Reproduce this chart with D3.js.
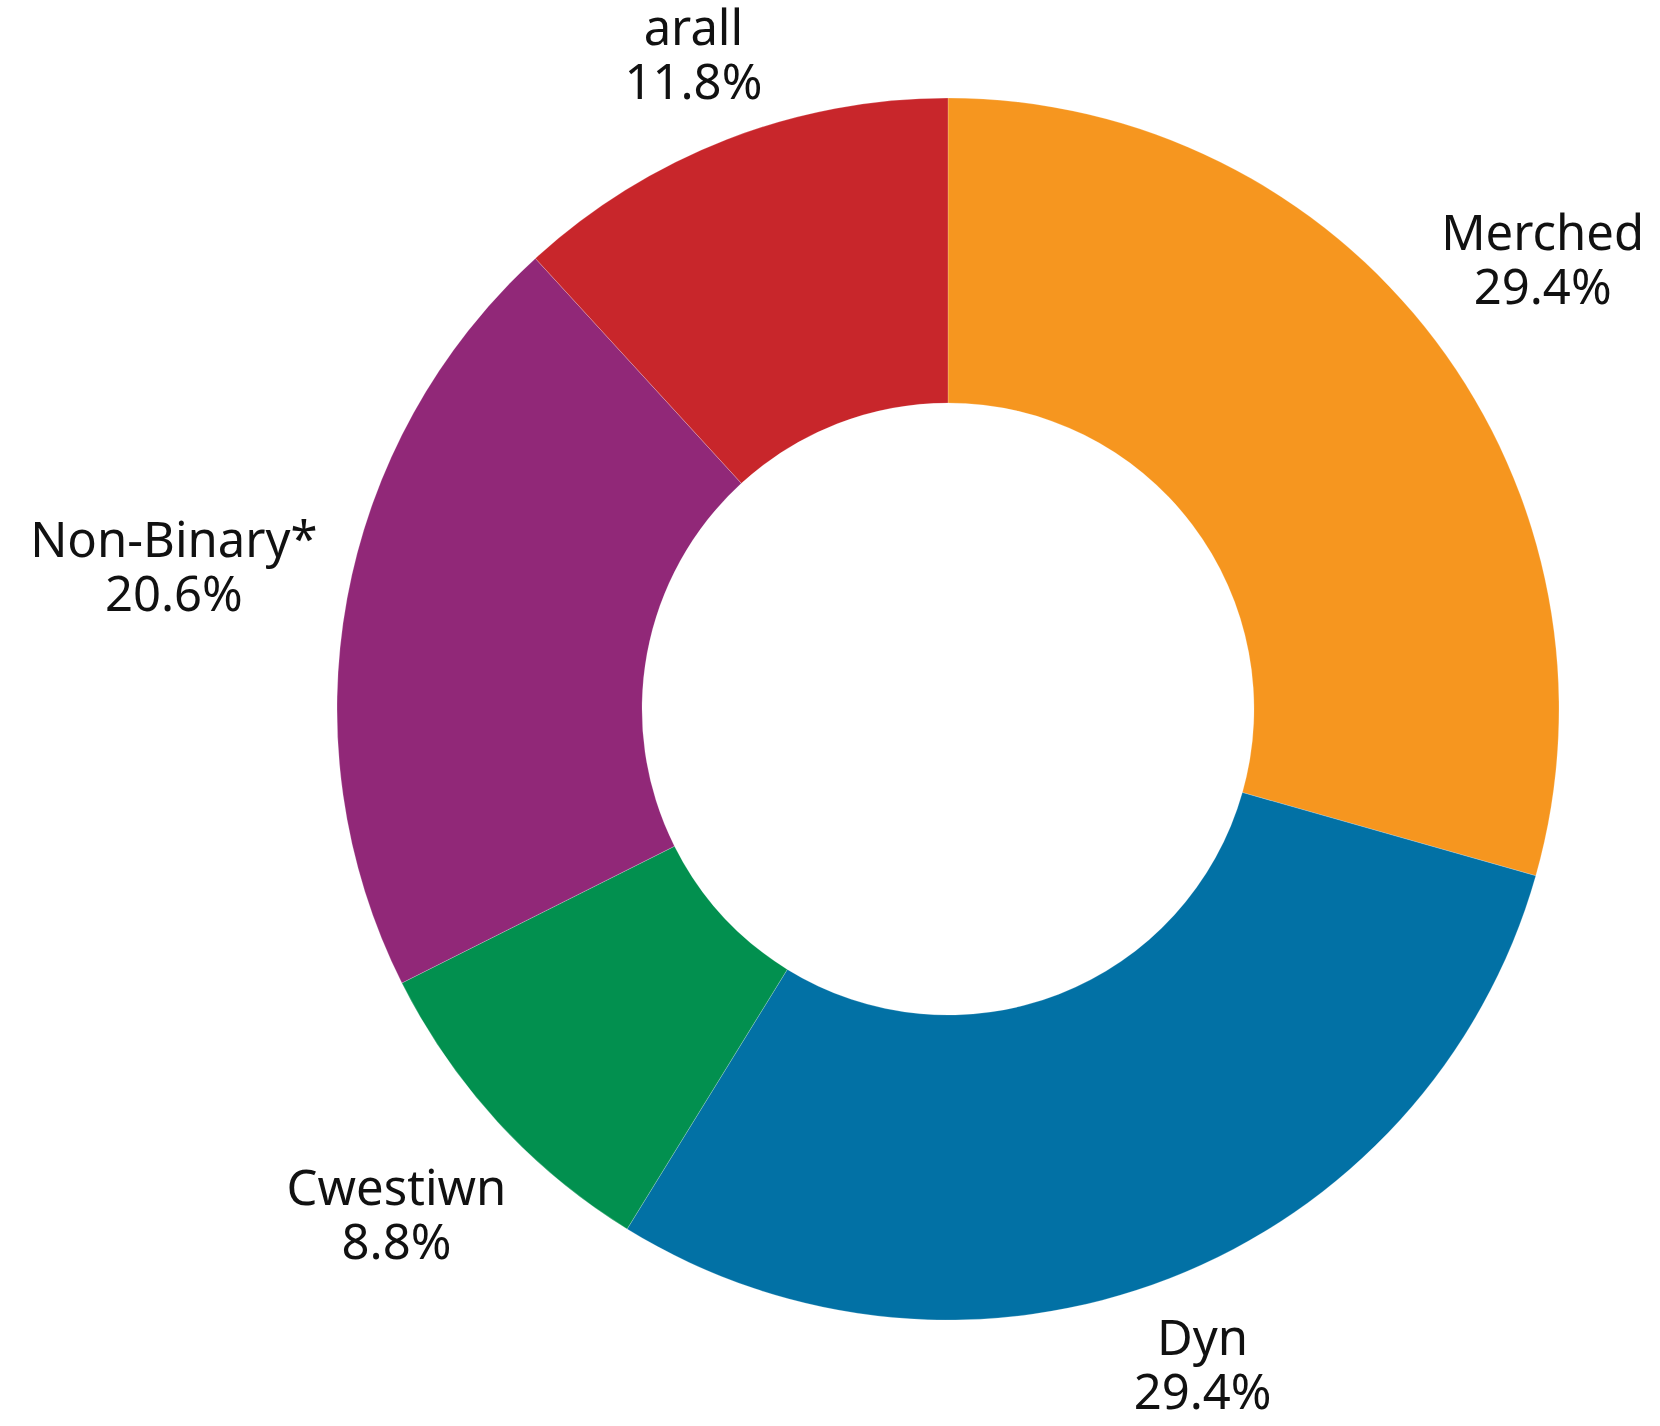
<!DOCTYPE html>
<html>
<head>
<meta charset="utf-8">
<script src="https://cdn.jsdelivr.net/npm/d3@7"></script>
<style>
  html, body { margin: 0; padding: 0; background: #ffffff; }
  svg { display: block; }
  text { font-family: "Noto Sans", "DejaVu Sans", sans-serif; fill: #111111; }
</style>
</head>
<body>
<svg id="chart" width="1660" height="1426"></svg>
<script>
// Gender breakdown, clockwise from 12 o'clock
const categories = ["Merched", "Dyn", "Cwestiwn", "Non-Binary*", "arall"];
const shares = [29.4, 29.4, 8.8, 20.6, 11.8];
const valueLabels = ["29.4%", "29.4%", "8.8%", "20.6%", "11.8%"];
const colours = ["#F6961F", "#0271A5", "#02904F", "#912878", "#C8262B"];

const width = 1660, height = 1426;
const cx = 948, cy = 709;
const outerR = 611, innerR = 306;
const fontSize = 49;
const lineGap = 54;      // baseline to baseline
const labelGap = 27;     // clearance between ring and label block

const svg = d3.select("#chart");
const g = svg.append("g").attr("transform", `translate(${cx},${cy})`);

const data = categories.map((c, i) => ({ name: c, value: shares[i], label: valueLabels[i], colour: colours[i] }));

const pie = d3.pie().value(d => d.value).sort(null);
const arc = d3.arc().innerRadius(innerR).outerRadius(outerR);
const arcs = pie(data);

g.selectAll("path.slice")
  .data(arcs)
  .join("path")
  .attr("class", "slice")
  .attr("d", arc)
  .attr("fill", d => d.data.colour)
  .attr("stroke", "#ffffff")
  .attr("stroke-opacity", 0.35)
  .attr("stroke-width", 0.6);

// Labels: two-line blocks pushed outward along each slice's mid-angle
// until the block clears the ring by labelGap.
const labels = g.selectAll("text.label")
  .data(arcs)
  .join("text")
  .attr("class", "label")
  .attr("text-anchor", "middle")
  .attr("font-size", fontSize);

labels.each(function(d) {
  const t = d3.select(this);
  const s1 = t.append("tspan").attr("x", 0).attr("y", 0).text(d.data.name);
  const s2 = t.append("tspan").attr("x", 0).attr("y", lineGap).text(d.data.label);

  const w = Math.max(s1.node().getComputedTextLength(), s2.node().getComputedTextLength());
  const capTop = -0.72 * fontSize;
  const bottom = lineGap;
  const midY = (capTop + bottom) / 2;
  const h = bottom - capTop;

  const a = (d.startAngle + d.endAngle) / 2;
  const ux = Math.sin(a), uy = -Math.cos(a);

  // distance from ring centre to nearest point of a block centred at (bx, by)
  const nearest = (bx, by) => {
    const nx = Math.max(bx - w / 2, Math.min(0, bx + w / 2));
    const ny = Math.max(by - h / 2, Math.min(0, by + h / 2));
    return Math.hypot(nx, ny);
  };

  let lo = 0, hi = outerR + 600;
  for (let k = 0; k < 60; k++) {
    const mid = (lo + hi) / 2;
    if (nearest(ux * mid, uy * mid) < outerR + labelGap) lo = mid; else hi = mid;
  }
  const bx = ux * hi, by = uy * hi;
  t.attr("transform", `translate(${bx},${by - midY})`);
});
</script>
</body>
</html>
